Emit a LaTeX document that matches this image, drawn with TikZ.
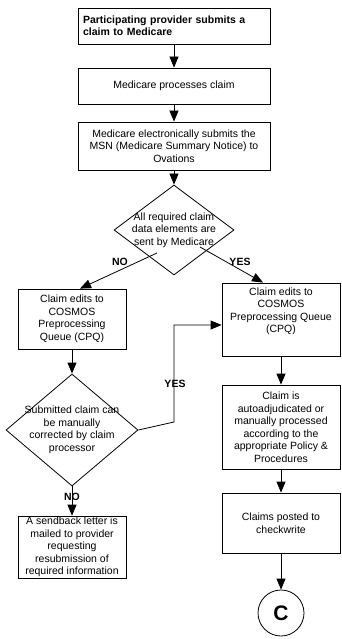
\documentclass[tikz,border=0pt]{standalone}
\usepackage{fontspec}
\setmainfont{Liberation Sans}
\usetikzlibrary{arrows.meta,shapes.geometric}

\begin{document}
\begin{tikzpicture}[x=1pt, y=-1pt,
        box/.style={rectangle, draw, line width=0.8pt, align=center, inner sep=1pt, font=\fontsize{10.5}{12.5}\selectfont},
        decision/.style={diamond, draw, line width=0.8pt, inner sep=0pt},
        dtext/.style={align=center, font=\fontsize{10.5}{12.5}\selectfont},
        arr/.style={-{Triangle[length=11pt,width=9pt]}, line width=0.8pt},
        lbl/.style={font=\bfseries\fontsize{10.5}{12.5}\selectfont}]
        \useasboundingbox (0,0) rectangle (341,639);

        % Nodes
        \node[box, minimum width=192, minimum height=36, text width=182, align=left, font=\bfseries\fontsize{10.5}{12.5}\selectfont] (submit) at (174, 26) {Participating provider submits a\\claim to Medicare};
        \node[box, minimum width=192, minimum height=36] (process) at (174, 86) {Medicare processes claim};
        \node[box, minimum width=192, minimum height=48] (msn) at (174, 146) {Medicare electronically submits the\\MSN (Medicare Summary Notice) to\\Ovations};
        \node[decision, minimum width=120, minimum height=90, label={[dtext]center:{All required claim\\data elements are\\sent by Medicare}}] (elements) at (174, 230) {};

        \node[box, minimum width=108, minimum height=60] (cpqno) at (72, 319) {Claim edits to\\COSMOS\\Preprocessing\\Queue (CPQ)};
        \node[decision, minimum width=132, minimum height=112, label={[dtext]center:{Submitted claim can\\be manually\\corrected by claim\\processor}}] (correct) at (72, 430) {};
        \node[box, minimum width=108, minimum height=60] (sendback) at (72, 547) {A sendback letter is\\mailed to provider\\requesting\\resubmission of\\required information};

        \node[box, minimum width=118, minimum height=73] (cpqyes) at (281, 319.5) {Claim edits to\\COSMOS\\Preprocessing Queue\\(CPQ)\\[6pt]};
        \node[box, minimum width=118, minimum height=84] (adjud) at (281, 427) {Claim is\\autoadjudicated or\\manually processed\\according to the\\appropriate Policy \&\\Procedures};
        \node[box, minimum width=118, minimum height=60] (posted) at (281, 523) {Claims posted to\\checkwrite};
        \node[circle, draw, line width=0.8pt, minimum size=46, inner sep=0pt, font=\bfseries\fontsize{21}{21}\selectfont] (conn) at (281, 613) {C};

        \coordinate (noout) at (157, 253);
        \coordinate (yesout) at (200, 247);
        \coordinate (bend) at (174, 422);

        % Edges
        \draw[arr] (submit) -- (process);
        \draw[arr] (process) -- (msn);
        \draw[arr] (msn) -- (elements);
        \draw[arr] (noout) -- ([xshift=8]cpqno.north);
        \draw[arr] (yesout) -- ([xshift=-18]cpqyes.north);
        \draw[arr] (cpqno) -- (correct);
        \draw[arr] (correct) -- (sendback);
        \draw[arr] (correct.east) -- (bend) |- ([yshift=-5.5]cpqyes.west);
        \draw[arr] (cpqyes) -- (adjud);
        \draw[arr] (adjud) -- (posted);
        \draw[arr] (posted) -- (conn);

        % Labels
        \node[lbl] (nolbl) at (120, 262) {NO};
        \node[lbl] (yeslbl) at (240, 262) {YES};
        \node[lbl] (yesback) at (175, 384) {YES};
        \node[lbl] (noback) at (72, 497) {NO};
    \end{tikzpicture}
\end{document}
